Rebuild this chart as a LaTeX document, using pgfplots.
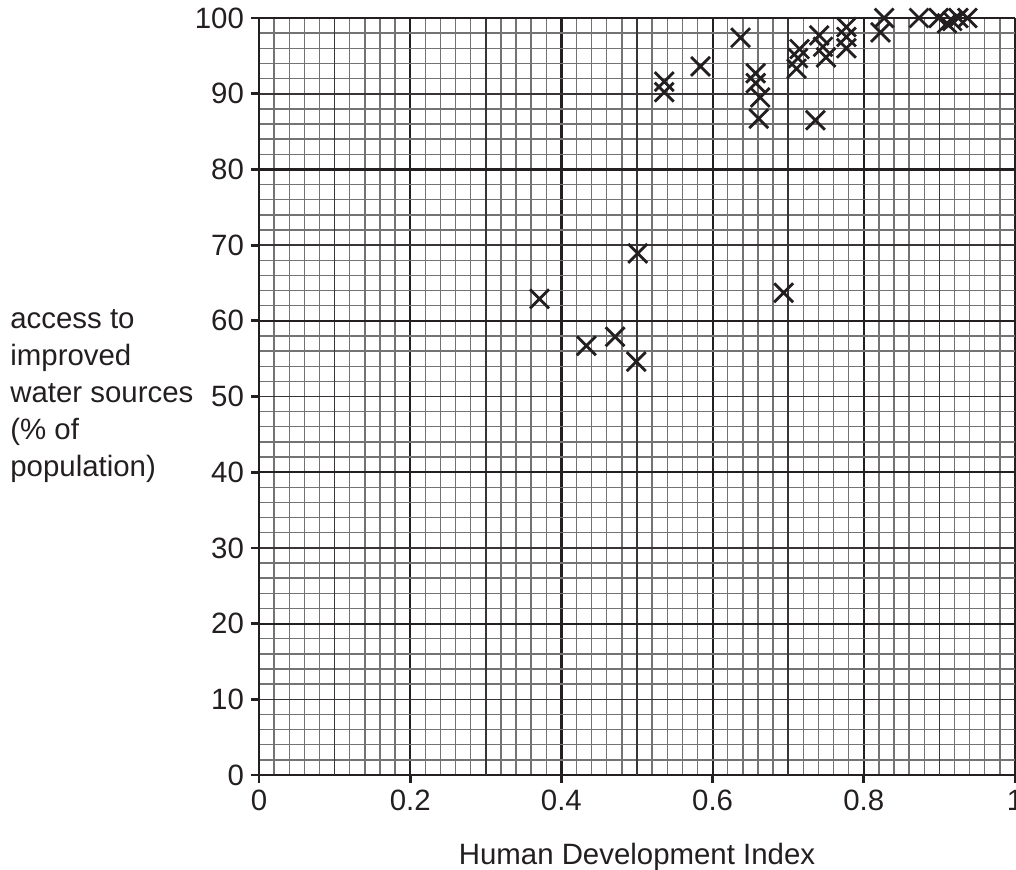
\documentclass[border=0pt]{standalone}
\usepackage{fontspec}
\setmainfont{Liberation Sans}
\usepackage{pgfplots}
\pgfplotsset{compat=1.18}
\definecolor{ink}{RGB}{35,31,32}
\newcommand{\lbl}{\fontsize{14.7}{18.5}\selectfont}

\begin{document}
\begin{tikzpicture}
\begin{axis}[
    width=378pt, height=378.5pt, scale only axis,
    xmin=0, xmax=1, ymin=0, ymax=100,
    clip=false,
    axis lines=left,
    axis line style={-, line width=1.4pt, ink},
    xtick={0,0.2,0.4,0.6,0.8,1},
    xticklabels={0,0.2,0.4,0.6,0.8,1},
    ytick={0,10,...,100},
    minor x tick num=9, minor y tick num=4,
    tick align=outside,
    major tick length=4pt, minor tick length=0pt,
    tick style={line width=1.4pt, ink},
    grid=both,
    minor x grid style={black!55, line width=0.7pt},
    minor y grid style={black!55, line width=0.7pt},
    major x grid style={ink, line width=1.1pt},
    major y grid style={ink!90, line width=0.8pt},
    extra x ticks={0.1,0.3,0.5,0.7,0.9},
    extra x tick labels={},
    extra x tick style={grid=major, major tick length=0pt,
        major x grid style={ink!90, line width=0.8pt}},
    extra y ticks={20,40,60,80,100},
    extra y tick labels={},
    extra y tick style={grid=major, major tick length=0pt,
        major y grid style={ink, line width=1.1pt}},
    /pgf/number format/assume math mode=true,
    ticklabel style={font=\lbl, text=ink},
  ]
  \coordinate (o) at (rel axis cs:0,0);

  \addplot[only marks, mark=x, mark size=6.7pt,
      mark options={line width=1.4pt, ink}] coordinates {
    (0.371,62.9) (0.433,56.7) (0.471,57.9) (0.499,54.6) (0.501,68.9)
    (0.694,63.7)
    (0.536,91.6) (0.536,90.2) (0.584,93.6) (0.637,97.4)
    (0.657,92.7) (0.657,91.4) (0.663,89.5) (0.661,86.7)
    (0.736,86.5)
    (0.715,95.9) (0.713,94.7) (0.711,93.3)
    (0.741,97.7) (0.746,96.2) (0.750,94.8)
    (0.777,98.8) (0.777,97.5) (0.777,96.0)
    (0.827,100) (0.822,98.1) (0.873,100) (0.899,100)
    (0.910,99.3) (0.917,99.6) (0.925,100) (0.937,100)
  };

  \node[anchor=west, align=left, font=\lbl, text=ink, inner xsep=5pt,
      inner ysep=0pt, xshift=-129.5pt] at (rel axis cs:0,0.5)
      {access to\\improved\\water sources\\(\% of\\population)};
  \node[anchor=base, font=\lbl, text=ink, yshift=-44.5pt]
      at (rel axis cs:0.5,0) {Human Development Index};
\end{axis}
\pgfresetboundingbox
\path (o) ++(-129.5pt,-47pt) rectangle ++(508pt,434.5pt);
\end{tikzpicture}
\end{document}
